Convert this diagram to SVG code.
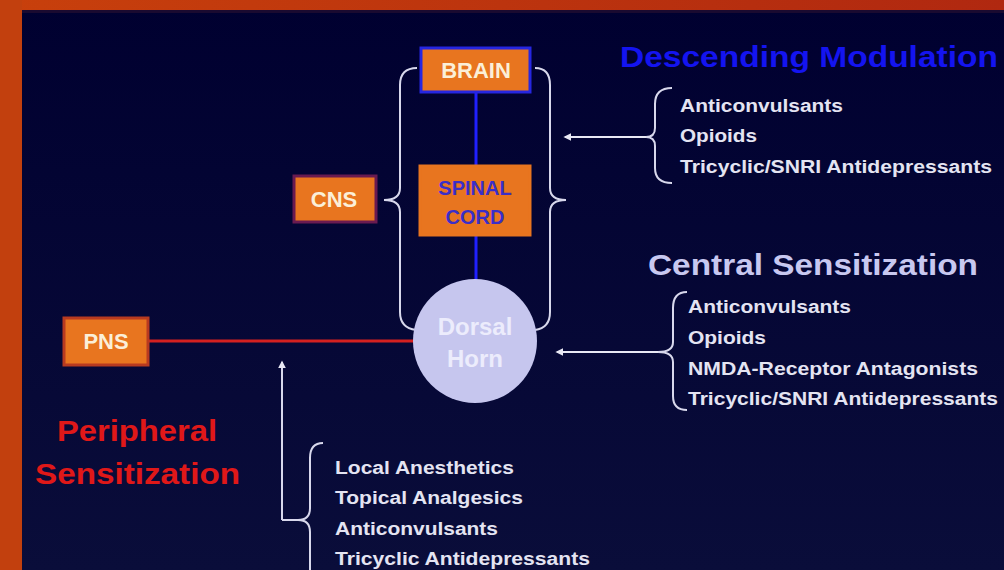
<svg xmlns="http://www.w3.org/2000/svg" width="1004" height="570" viewBox="0 0 1004 570">
<defs>
<linearGradient id="bg" x1="0" y1="0" x2="0" y2="1">
<stop offset="0" stop-color="#000030"/>
<stop offset="1" stop-color="#0a0d3a"/>
</linearGradient>
<linearGradient id="frame" x1="0" y1="0" x2="1" y2="0">
<stop offset="0" stop-color="#c8400c"/>
<stop offset="1" stop-color="#b02810"/>
</linearGradient>
<marker id="ah" viewBox="0 0 10 10" refX="8" refY="5" markerWidth="4" markerHeight="4" orient="auto">
<path d="M0,0 L10,5 L0,10 Z" fill="#e8e8f4"/>
</marker>
</defs>
<style>
.box{fill:#e8751f;stroke-width:3}
.lbl{font-family:"Liberation Sans",Arial,sans-serif;font-weight:bold;text-anchor:middle}
.item{font-family:"Liberation Sans",Arial,sans-serif;font-weight:bold;font-size:18px;fill:#e4e4f2}
.brace{fill:none;stroke:#d8d8ec;stroke-width:2}
.head{font-family:"Liberation Sans",Arial,sans-serif;font-weight:bold}
</style>
<rect width="1004" height="570" fill="url(#bg)"/>
<rect x="0" y="0" width="1004" height="10" fill="url(#frame)"/>
<rect x="0" y="0" width="22" height="570" fill="#c2400e"/>
<rect x="22" y="10" width="982" height="3" fill="#1a0a30"/>

<g id="connectors">
<line x1="476" y1="92" x2="476" y2="280" stroke="#2020ff" stroke-width="3"/>
<line x1="148" y1="341" x2="414" y2="341" stroke="#d42020" stroke-width="3"/>
<path class="brace" d="M417,68 Q400,68 400,85 L400,188 Q400,200 384,200 Q400,200 400,212 L400,312 Q400,328 416,330"/>
<path class="brace" d="M535,68 Q550,68 550,85 L550,188 Q550,200 566,200 Q550,200 550,212 L550,312 Q550,328 535,330"/>
<path class="brace" d="M672,88 Q655,88 655,104 L655,128 Q655,137 646,137 Q655,137 655,146 L655,168 Q655,183 672,183"/>
<line x1="646" y1="137" x2="565" y2="137" stroke="#e8e8f4" stroke-width="2" marker-end="url(#ah)"/>
<path class="brace" d="M687,292 Q673,292 673,308 L673,342 Q673,352 658,352 Q673,352 673,362 L673,396 Q673,410 687,410"/>
<line x1="658" y1="352" x2="557" y2="352" stroke="#e8e8f4" stroke-width="2" marker-end="url(#ah)"/>
<path class="brace" d="M323,443 Q310,443 310,458 L310,508 Q310,520 298,520 L282,520"/>
<path class="brace" d="M298,520 Q310,520 310,532 L310,570"/>
<line x1="282" y1="520" x2="282" y2="362" stroke="#d8d8ec" stroke-width="2" marker-end="url(#ah)"/>
</g>

<g id="brain">
<rect class="box" x="421" y="48" width="109" height="44" stroke="#2626e0"/>
<text class="lbl" x="476" y="78" font-size="22" fill="#fbefd8">BRAIN</text>
</g>
<g id="spinal-cord">
<rect class="box" x="420" y="166" width="110" height="69" stroke="#e8751f"/>
<text class="lbl" x="475" y="195" font-size="20" fill="#3a2ec8">SPINAL</text>
<text class="lbl" x="475" y="224" font-size="20" fill="#3a2ec8">CORD</text>
</g>
<g id="cns">
<rect class="box" x="294" y="176" width="82" height="46" stroke="#6a1a50"/>
<text class="lbl" x="334" y="207" font-size="22" fill="#fbefd8">CNS</text>
</g>
<g id="pns">
<rect class="box" x="64" y="318" width="84" height="47" stroke="#b83a20"/>
<text class="lbl" x="106" y="349" font-size="22" fill="#fbefd8">PNS</text>
</g>
<g id="dorsal-horn">
<circle cx="475" cy="341" r="62" fill="#c6c6ee"/>
<text class="lbl" x="475" y="335" font-size="24" fill="#ececfc">Dorsal</text>
<text class="lbl" x="475" y="367" font-size="24" fill="#ececfc">Horn</text>
</g>

<g id="descending">
<text class="head" x="620" y="67" font-size="30" fill="#1414f0" textLength="378" lengthAdjust="spacingAndGlyphs">Descending Modulation</text>
<text class="item" x="680" y="112" textLength="163" lengthAdjust="spacingAndGlyphs">Anticonvulsants</text>
<text class="item" x="680" y="142" textLength="77" lengthAdjust="spacingAndGlyphs">Opioids</text>
<text class="item" x="680" y="173" textLength="312" lengthAdjust="spacingAndGlyphs">Tricyclic/SNRI Antidepressants</text>
</g>
<g id="central">
<text class="head" x="648" y="275" font-size="30" fill="#c8c8f0" textLength="330" lengthAdjust="spacingAndGlyphs">Central Sensitization</text>
<text class="item" x="688" y="313" textLength="163" lengthAdjust="spacingAndGlyphs">Anticonvulsants</text>
<text class="item" x="688" y="344" textLength="78" lengthAdjust="spacingAndGlyphs">Opioids</text>
<text class="item" x="688" y="375" textLength="290" lengthAdjust="spacingAndGlyphs">NMDA-Receptor Antagonists</text>
<text class="item" x="688" y="405" textLength="310" lengthAdjust="spacingAndGlyphs">Tricyclic/SNRI Antidepressants</text>
</g>
<g id="peripheral">
<text class="head" x="57" y="441" font-size="30" fill="#e01818" textLength="160" lengthAdjust="spacingAndGlyphs">Peripheral</text>
<text class="head" x="35" y="484" font-size="30" fill="#e01818" textLength="205" lengthAdjust="spacingAndGlyphs">Sensitization</text>
<text class="item" x="335" y="474" textLength="179" lengthAdjust="spacingAndGlyphs">Local Anesthetics</text>
<text class="item" x="335" y="504" textLength="188" lengthAdjust="spacingAndGlyphs">Topical Analgesics</text>
<text class="item" x="335" y="535" textLength="163" lengthAdjust="spacingAndGlyphs">Anticonvulsants</text>
<text class="item" x="335" y="565" textLength="255" lengthAdjust="spacingAndGlyphs">Tricyclic Antidepressants</text>
</g>
</svg>
